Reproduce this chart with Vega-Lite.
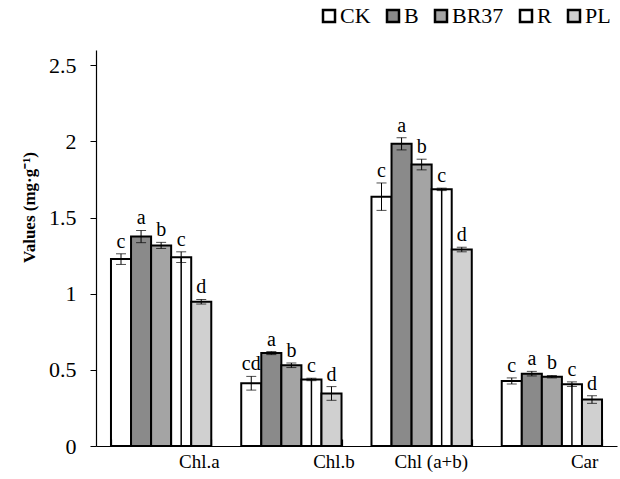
{
  "$schema": "https://vega.github.io/schema/vega-lite/v6.json",
  "width": 521,
  "height": 396,
  "autosize": {"type": "none"},
  "padding": {"left": 96, "top": 50, "right": 3, "bottom": 33},
  "background": "white",
  "config": {
    "view": {"stroke": null},
    "font": "Times New Roman",
    "axis": {"labelFont": "Times New Roman", "titleFont": "Times New Roman", "labelColor": "black", "titleColor": "black", "domainColor": "black", "tickColor": "black"},
    "legend": {"labelFont": "Times New Roman"}
  },
  "data": {
    "values": [
      {"cat": "Chl.a", "trt": "CK", "v": 1.227, "e": 0.035, "lab": "c"},
      {"cat": "Chl.a", "trt": "B", "v": 1.375, "e": 0.04, "lab": "a"},
      {"cat": "Chl.a", "trt": "BR37", "v": 1.317, "e": 0.02, "lab": "b"},
      {"cat": "Chl.a", "trt": "R", "v": 1.24, "e": 0.035, "lab": "c"},
      {"cat": "Chl.a", "trt": "PL", "v": 0.947, "e": 0.015, "lab": "d"},
      {"cat": "Chl.b", "trt": "CK", "v": 0.412, "e": 0.045, "lab": "cd"},
      {"cat": "Chl.b", "trt": "B", "v": 0.61, "e": 0.01, "lab": "a"},
      {"cat": "Chl.b", "trt": "BR37", "v": 0.53, "e": 0.015, "lab": "b"},
      {"cat": "Chl.b", "trt": "R", "v": 0.437, "e": 0.008, "lab": "c"},
      {"cat": "Chl.b", "trt": "PL", "v": 0.345, "e": 0.045, "lab": "d"},
      {"cat": "Chl (a+b)", "trt": "CK", "v": 1.637, "e": 0.09, "lab": "c"},
      {"cat": "Chl (a+b)", "trt": "B", "v": 1.984, "e": 0.04, "lab": "a"},
      {"cat": "Chl (a+b)", "trt": "BR37", "v": 1.848, "e": 0.035, "lab": "b"},
      {"cat": "Chl (a+b)", "trt": "R", "v": 1.685, "e": 0.008, "lab": "c"},
      {"cat": "Chl (a+b)", "trt": "PL", "v": 1.29, "e": 0.015, "lab": "d"},
      {"cat": "Car", "trt": "CK", "v": 0.427, "e": 0.02, "lab": "c"},
      {"cat": "Car", "trt": "B", "v": 0.475, "e": 0.015, "lab": "a"},
      {"cat": "Car", "trt": "BR37", "v": 0.455, "e": 0.008, "lab": "b"},
      {"cat": "Car", "trt": "R", "v": 0.406, "e": 0.015, "lab": "c"},
      {"cat": "Car", "trt": "PL", "v": 0.305, "e": 0.025, "lab": "d"}
    ]
  },
  "transform": [
    {"calculate": "datum.v - datum.e", "as": "lo"},
    {"calculate": "datum.v + datum.e", "as": "hi"}
  ],
  "encoding": {
    "x": {
      "field": "cat", "type": "nominal", "sort": ["Chl.a", "Chl.b", "Chl (a+b)", "Car"],
      "scale": {"paddingInner": 0.23, "paddingOuter": 0.115},
      "axis": {"title": null, "labelAngle": 0, "labelFont": "Times New Roman", "labelFontSize": 19, "labelAlign": "right", "labelBaseline": "alphabetic",
        "labelOffset": {"condition": [{"test": "datum.value === 'Chl.a'", "value": 58}, {"test": "datum.value === 'Chl.b'", "value": 63}], "value": 46},
        "ticks": true, "tickBand": "extent", "tickSize": -7, "tickWidth": 1.2, "labelPadding": 28, "domainWidth": 1.2, "zindex": 1}
    },
    "xOffset": {"field": "trt", "type": "nominal", "sort": ["CK", "B", "BR37", "R", "PL"], "scale": {"paddingInner": 0, "paddingOuter": 0}}
  },
  "layer": [
    {
      "mark": {"type": "bar", "stroke": "black", "strokeWidth": 2},
      "encoding": {
        "y": {"field": "v", "type": "quantitative", "scale": {"domain": [0, 2.5]},
          "axis": {"title": "Values (mg·g⁻¹)", "titleFont": "Times New Roman", "titleFontSize": 17, "titleFontWeight": "bold", "titleX": -67, "titleY": 157, "titleAngle": 270, "titleAlign": "center", "titleBaseline": "middle", "values": [0, 0.5, 1, 1.5, 2, 2.5], "format": "~g", "labelFont": "Times New Roman", "labelFontSize": 22, "grid": false, "tickSize": 6, "labelPadding": 14, "domainWidth": 1.2}},
        "fill": {
          "field": "trt", "type": "nominal", "sort": ["CK", "B", "BR37", "R", "PL"],
          "scale": {"domain": ["CK", "B", "BR37", "R", "PL"], "range": ["#ffffff", "#8a8a8a", "#a4a4a4", "#ffffff", "#d0d0d0"]},
          "legend": {"title": null, "orient": "none", "direction": "horizontal", "legendX": 222, "legendY": -45, "padding": 0, "symbolType": "square", "symbolSize": 144, "symbolStrokeColor": "black", "symbolStrokeWidth": 2.5, "labelFont": "Times New Roman", "labelFontSize": 22, "labelOffset": 0, "columnPadding": 11, "labelColor": "black"}
        }
      }
    },
    {
      "transform": [{"filter": "datum.trt === 'R'"}],
      "mark": {"type": "rule", "stroke": "black", "strokeWidth": 1.5},
      "encoding": {"y": {"field": "v", "type": "quantitative"}, "y2": {"datum": 0}}
    },
    {
      "mark": {"type": "rule", "stroke": "black", "strokeWidth": 1},
      "encoding": {"y": {"field": "lo", "type": "quantitative"}, "y2": {"field": "hi"}}
    },
    {
      "mark": {"type": "tick", "color": "black", "thickness": 1, "size": 10},
      "encoding": {"y": {"field": "hi", "type": "quantitative"}}
    },
    {
      "mark": {"type": "tick", "color": "black", "thickness": 1, "size": 10},
      "encoding": {"y": {"field": "lo", "type": "quantitative"}}
    },
    {
      "mark": {"type": "text", "font": "Times New Roman", "fontSize": 20, "baseline": "alphabetic", "dy": -6, "color": "black"},
      "encoding": {"y": {"field": "hi", "type": "quantitative"}, "text": {"field": "lab"}}
    }
  ]
}
